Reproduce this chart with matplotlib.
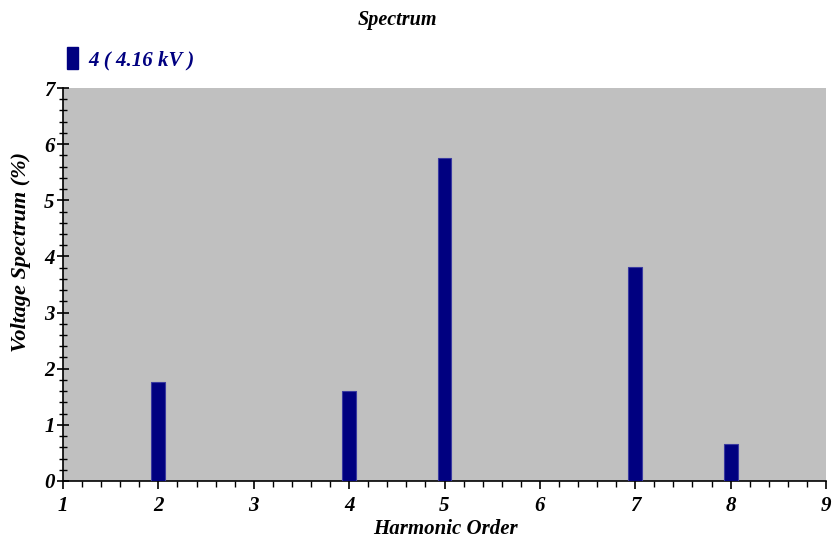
import matplotlib.pyplot as plt
from matplotlib.ticker import MultipleLocator
from matplotlib.patches import Rectangle

harmonics = [2, 4, 5, 7, 8]
spectrum = [1.77, 1.60, 5.76, 3.81, 0.66]
series_name = '4 ( 4.16 kV )'

font = dict(family='Liberation Serif', weight='bold', style='italic')

fig = plt.figure(figsize=(8.32, 5.4), dpi=100)
ax = fig.add_axes([63/832, 1-481/540, (826-63)/832, (481-88)/540])
ax.set_facecolor('#c0c0c0')

ax.bar(harmonics, spectrum, width=0.145, color='#000080',
       edgecolor='#3a3aa0', linewidth=0.8, zorder=3)

ax.set_xlim(1, 9)
ax.set_ylim(0, 7)
ax.xaxis.set_major_locator(MultipleLocator(1))
ax.xaxis.set_minor_locator(MultipleLocator(0.2))
ax.yaxis.set_major_locator(MultipleLocator(1))
ax.yaxis.set_minor_locator(MultipleLocator(0.2))

for s in ['top', 'right']:
    ax.spines[s].set_visible(False)
for s in ['left', 'bottom']:
    ax.spines[s].set_linewidth(1.2)

ax.tick_params(axis='x', which='major', direction='out', length=6, width=1.2, pad=5)
ax.tick_params(axis='x', which='minor', direction='out', length=4, width=1)
ax.tick_params(axis='y', which='major', direction='inout', length=8, width=1.2, pad=2)
ax.tick_params(axis='y', which='minor', direction='inout', length=6, width=1)

for lbl in ax.get_xticklabels() + ax.get_yticklabels():
    lbl.set_fontfamily('Liberation Serif')
    lbl.set_fontweight('bold')
    lbl.set_fontstyle('italic')
    lbl.set_fontsize(15)

# axis titles and chart title placed like the original
fig.text(445/832, 1-529/540, 'Harmonic Order', ha='center', va='center',
         fontsize=15, **font)
fig.text(21/832, 1-252/540, 'Voltage Spectrum (%)', ha='center', va='center',
         rotation=90, fontsize=16, **font)
fig.text(397/832, 1-20/540, 'Spectrum', ha='center', va='center', fontsize=14.5, **font)

# legend
fig.patches.append(Rectangle((67/832, 1-69/540), 11/832, 22/540,
                             transform=fig.transFigure, color='#000080'))
fig.text(88/832, 1-60/540, series_name, ha='left', va='center', fontsize=15,
         color='#000080', **font)

fig.savefig('out.png', dpi=100)
